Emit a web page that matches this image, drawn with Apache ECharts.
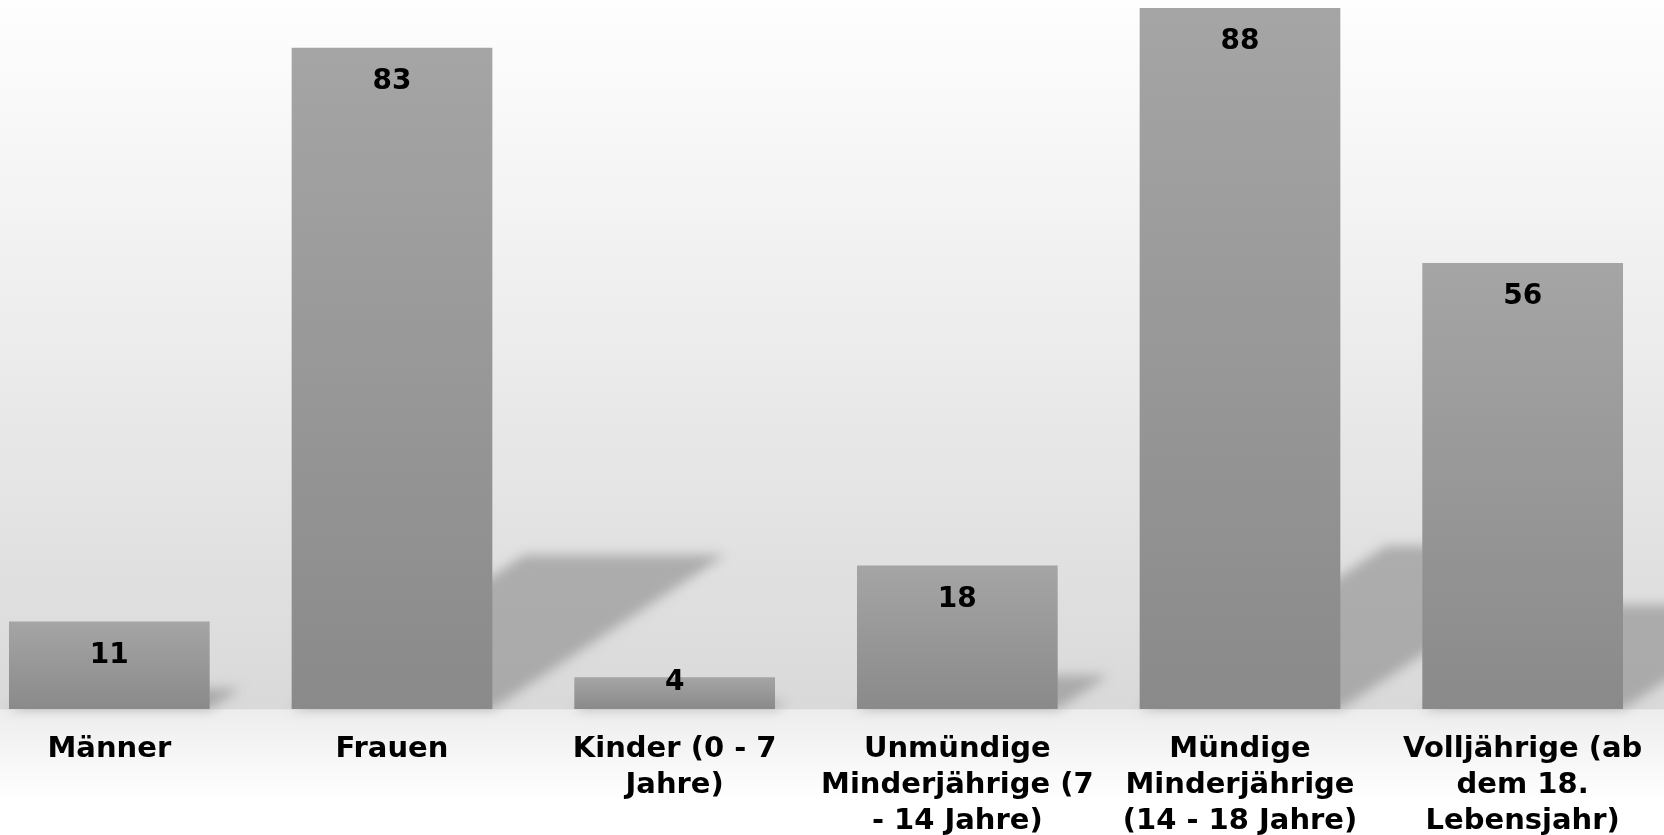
<!DOCTYPE html>
<html style="height: 100%">
  <head>
    <meta charset="utf-8" />
    <title>Balken</title>
    <script src="https://cdn.jsdelivr.net/npm/echarts@6/dist/echarts.min.js"></script>
  </head>
  <body style="height: 100%; margin: 0">
    <div id="main" style="width: 1664px; height: 835px"></div>
    <script type="text/javascript">
      // Kategorien (mit Zeilenumbruch wie im Original)
      var categories = [
        "Männer",
        "Frauen",
        "Kinder (0 - 7\nJahre)",
        "Unmündige\nMinderjährige (7\n- 14 Jahre)",
        "Mündige\nMinderjährige\n(14 - 18 Jahre)",
        "Volljährige (ab\ndem 18.\nLebensjahr)",
      ];
      var values = [11, 83, 4, 18, 88, 56];

      var fontFamily = "DejaVu Sans";
      var barRatio = 0.71;
      var SHIFT = 4000; // Form ausserhalb zeichnen, nur der weiche Schatten bleibt sichtbar

      var barData = values.map(function (v) {
        if (v < 8) {
          // kleiner Balken: Beschriftung ragt nach oben heraus
          return { value: v, label: { distance: -8 } };
        }
        return v;
      });

      var myChart = echarts.init(document.getElementById("main"));

      var option = {
        backgroundColor: new echarts.graphic.LinearGradient(0, 0, 0, 1, [
          { offset: 0, color: "#fefefe" },
          { offset: 0.849, color: "#d9d9d9" },
          { offset: 0.85, color: "#ededed" },
          { offset: 0.96, color: "#ffffff" },
          { offset: 1, color: "#ffffff" },
        ]),
        animation: false,
        grid: {
          left: -32,
          right: 0,
          top: 8,
          bottom: 126,
          containLabel: false,
          outerBoundsMode: "none",
        },
        xAxis: {
          type: "category",
          data: categories,
          axisLine: { show: false },
          axisTick: { show: false },
          axisLabel: {
            interval: 0,
            margin: 22,
            color: "#000",
            fontFamily: fontFamily,
            fontWeight: "bold",
            fontSize: 29,
            lineHeight: 36,
          },
        },
        yAxis: {
          type: "value",
          min: 0,
          max: 88,
          show: false,
          splitLine: { show: false },
        },
        series: [
          {
            // Schlagschatten nach rechts oben
            type: "custom",
            z: 1,
            silent: true,
            clip: false,
            data: values.map(function (v, i) {
              return [i, v];
            }),
            renderItem: function (params, api) {
              var i = api.value(0);
              var v = api.value(1);
              var base = api.coord([i, 0]);
              var top = api.coord([i, v]);
              var w = api.size([1, 0])[0] * barRatio;
              var h = (base[1] - top[1]) * 0.233;
              var dx = h * 1.51;
              var x0 = base[0] - w / 2 - SHIFT;
              var x1 = base[0] + w / 2 - SHIFT;
              return {
                type: "polygon",
                shape: {
                  points: [
                    [x0, base[1]],
                    [x1, base[1]],
                    [x1 + dx, base[1] - h],
                    [x0 + dx, base[1] - h],
                  ],
                },
                style: {
                  fill: "#000",
                  shadowBlur: 12,
                  shadowOffsetX: SHIFT,
                  shadowColor: "rgba(140,140,140,0.62)",
                },
              };
            },
          },
          {
            type: "bar",
            z: 2,
            data: barData,
            barWidth: barRatio * 100 + "%",
            itemStyle: {
              color: new echarts.graphic.LinearGradient(0, 0, 0, 1, [
                { offset: 0, color: "#a5a5a5" },
                { offset: 1, color: "#8a8a8a" },
              ]),
            },
            label: {
              show: true,
              position: "insideTop",
              distance: 20,
              color: "#000",
              fontFamily: fontFamily,
              fontWeight: "bold",
              fontSize: 28,
              lineHeight: 28,
            },
          },
        ],
      };

      myChart.setOption(option);
    </script>
  </body>
</html>
